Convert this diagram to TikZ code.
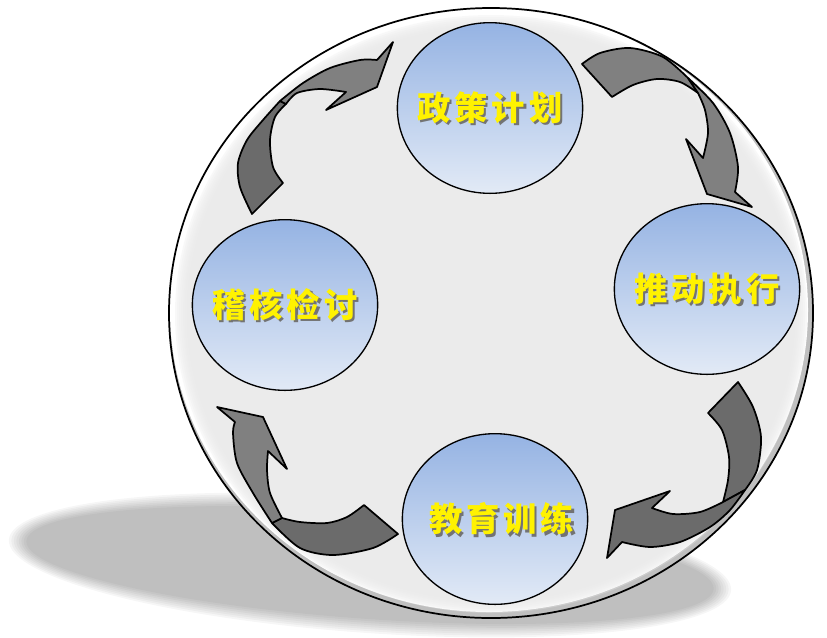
\documentclass[tikz,border=0pt]{standalone}
\usepackage{fontspec}
\newfontfamily\cjk{Noto Sans CJK SC}
\usetikzlibrary{shapes.geometric}
\definecolor{bubtop}{HTML}{95B3E3}
\definecolor{bubbot}{HTML}{E2EAF6}
\definecolor{disc}{HTML}{EBEBEB}
\definecolor{arrlight}{HTML}{808080}
\definecolor{arrdark}{HTML}{6B6B6B}
\newcommand{\yshadow}[1]{\makebox[0pt][c]{\makebox[0pt][l]{\raisebox{-1.6pt}[0pt][0pt]{\hspace{1.6pt}\textcolor{black!55}{#1}}}\textcolor{yellow}{#1}}}

\begin{document}
\begin{tikzpicture}[x=0.75pt,y=-0.75pt]
\tikzset{
  stage/.style={ellipse, draw=black, line width=1pt, minimum width=139pt, minimum height=128pt,
    inner sep=0pt, top color=bubtop, bottom color=bubbot, font=\cjk\bfseries\fontsize{25}{28}\selectfont},
  arrlt/.style={fill=arrlight, draw=black, line width=1.3pt, line join=round},
  arrdk/.style={fill=arrdark, draw=black, line width=1.3pt, line join=round}
}
\useasboundingbox (0,0) rectangle (827,637);

% shadow
\foreach \k in {0,...,7}
  \fill[black, opacity=0.034, rotate around={-4:(370,565)}] (370,565) ellipse [x radius={362-2.5*\k}, y radius={68-2*\k}];

% disc
\fill[gray!50] (491,313) ellipse [x radius=322, y radius=305];
\fill[white] (489,310) ellipse [x radius=319, y radius=302];
\foreach \k in {0,...,5}
  \fill[disc, opacity=0.3] (491,314) ellipse [x radius={316-2*\k}, y radius={299-2*\k}];
\fill[disc] (491,314) ellipse [x radius=304, y radius=287];
\draw[line width=1.3pt] (491,313) ellipse [x radius=322, y radius=305];

\node[stage] (plan) at (490,108) {\yshadow{政\hspace{3pt}策\hspace{3pt}计\hspace{3pt}划}};
\node[stage] (exec) at (707,289) {\yshadow{推\hspace{3pt}动\hspace{3pt}执\hspace{3pt}行}};
\node[stage] (train) at (495,519) {\yshadow{\hspace{10pt}教\hspace{3pt}育\hspace{3pt}训\hspace{3pt}练}};
\node[stage] (audit) at (285,305) {\yshadow{稽\hspace{3pt}核\hspace{3pt}检\hspace{3pt}讨}};

% plan -> exec
\filldraw[arrlt] plot[smooth] coordinates {(582,64) (600,53) (630,48) (663,57) (688,78)} -- (698,93)
  -- plot[smooth] coordinates {(698,93) (680,82) (657,79) (633,85) (612,97)} -- cycle;
\filldraw[arrlt] plot[smooth] coordinates {(688,78) (713,103) (730,133) (738,167) (735,192)} -- (752,207) -- (707,194) -- (686,139)
  -- plot[smooth] coordinates {(703,158) (708,133) (705,110) (698,93)} -- cycle;

% exec -> train
\filldraw[arrdk] plot[smooth] coordinates {(738,382) (753,407) (761,437) (757,470) (745,490)} -- (723,502)
  -- plot[smooth] coordinates {(723,502) (728,480) (729,457) (722,430) (708,413)} -- cycle;
\filldraw[arrdk] plot[smooth] coordinates {(745,490) (730,510) (710,527) (680,542) (650,547) (622,542)} -- (607,558) -- (615,510) -- (670,491)
  -- plot[smooth] coordinates {(652,508) (673,514) (700,512) (723,502)} -- cycle;

% train -> audit
\filldraw[arrdk] plot[smooth] coordinates {(398,534) (373,548) (333,555) (300,548) (272,523)} -- (282,518)
  -- plot[smooth] coordinates {(282,518) (300,522) (327,523) (347,517) (364,505)} -- cycle;
\filldraw[arrlt] plot[smooth] coordinates {(272,523) (253,493) (237,463) (233,433) (235,422)} -- (217,407) -- (263,417) -- (287,469)
  -- plot[smooth] coordinates {(268,451) (267,470) (270,493) (282,518)} -- cycle;

% audit -> plan
\filldraw[arrdk] plot[smooth] coordinates {(252,214) (240,187) (238,163) (247,140) (263,120) (280,101)} -- (286,104)
  -- plot[smooth] coordinates {(286,104) (275,117) (270,140) (273,167) (283,183)} -- cycle;
\filldraw[arrlt] plot[smooth] coordinates {(280,101) (303,83) (330,68) (360,60) (377,60)} -- (393,42) -- (377,87) -- (326,110)
  -- plot[smooth] coordinates {(346,92) (320,89) (297,93) (286,104)} -- cycle;
\end{tikzpicture}
\end{document}
